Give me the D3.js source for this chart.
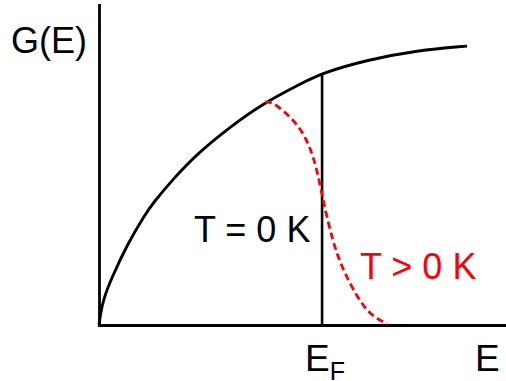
<!DOCTYPE html>
<html>
<head>
<meta charset="utf-8">
<script src="https://cdn.jsdelivr.net/npm/d3@7"></script>
<style>
  html, body { margin: 0; padding: 0; background: #fff; }
  svg text { font-family: "Liberation Sans", Arial, Helvetica, sans-serif; }
</style>
</head>
<body>
<svg id="chart" width="506" height="381"></svg>
<script>
// Density of states G(E) in arbitrary units (E_F = 1, G(E_F) = 1)
const energyT0 = [0, 0.0045, 0.018, 0.058, 0.130, 0.206, 0.242, 0.332, 0.439, 0.587, 0.735, 0.901, 1.000, 1.202, 1.426, 1.650];
const dosT0    = [0, 0.032, 0.099, 0.190, 0.325, 0.438, 0.484, 0.579, 0.679, 0.786, 0.879, 0.956, 1.000, 1.052, 1.090, 1.107];

// Occupied states at finite temperature, smeared around E_F
const energyT  = [0.744, 0.771, 0.825, 0.901, 0.946, 0.978, 1.004, 1.049, 1.094, 1.157, 1.215, 1.291];
const occT     = [0.884, 0.887, 0.853, 0.786, 0.706, 0.615, 0.496, 0.325, 0.218, 0.111, 0.040, 0.004];

const fermiEnergy = 1.0;
const fermiDos = 1.0;

const labels = {
  yAxis: "G(E)",
  xAxis: "E",
  fermi: "E",
  fermiSub: "F",
  zeroT: "T = 0 K",
  finiteT: "T > 0 K"
};

const svg = d3.select("#chart");
const x = d3.scaleLinear().domain([0, 1.82]).range([99, 505]);
const y = d3.scaleLinear().domain([0, 1.27]).range([325, 5]);

// Axes: plain lines, no ticks
const xAxis = svg.append("g")
  .attr("transform", `translate(0,${y(0)})`)
  .call(d3.axisBottom(x).tickValues([]).tickSizeOuter(0));
const yAxis = svg.append("g")
  .attr("transform", `translate(${x(0)},0)`)
  .call(d3.axisLeft(y).tickValues([]).tickSizeOuter(0));
[xAxis, yAxis].forEach(g => g.select(".domain")
  .attr("stroke", "#000").attr("stroke-width", 2.8).attr("stroke-linecap", "square"));

const line = d3.line()
  .x(d => x(d[0]))
  .y(d => y(d[1]))
  .curve(d3.curveBasis);

// G(E) curve
svg.append("path")
  .datum(d3.zip(energyT0, dosT0))
  .attr("d", line)
  .attr("fill", "none")
  .attr("stroke", "#000")
  .attr("stroke-width", 2.9);

// Sharp cutoff at E_F for T = 0
svg.append("line")
  .attr("x1", x(fermiEnergy)).attr("x2", x(fermiEnergy))
  .attr("y1", y(fermiDos)).attr("y2", y(0))
  .attr("stroke", "#000")
  .attr("stroke-width", 2.6);

// Smeared edge for T > 0
svg.append("path")
  .datum(d3.zip(energyT, occT))
  .attr("d", line)
  .attr("fill", "none")
  .attr("stroke", "#ff0000")
  .attr("stroke-width", 2.8)
  .attr("stroke-dasharray", "7,4");

// Labels
svg.append("text")
  .attr("x", 11).attr("y", 53)
  .attr("font-size", 36).attr("fill", "#000")
  .text(labels.yAxis);

svg.append("text")
  .attr("x", 475).attr("y", 371)
  .attr("font-size", 37).attr("fill", "#000")
  .text(labels.xAxis);

const ef = svg.append("text")
  .attr("x", 305).attr("y", 371)
  .attr("font-size", 37).attr("fill", "#000");
ef.append("tspan").text(labels.fermi);
ef.append("tspan").attr("font-size", 25).attr("dy", 9).text(labels.fermiSub);

svg.append("text")
  .attr("x", 194).attr("y", 242)
  .attr("font-size", 36).attr("fill", "#000")
  .text(labels.zeroT);

svg.append("text")
  .attr("x", 360).attr("y", 279)
  .attr("font-size", 36).attr("fill", "#ff0000")
  .text(labels.finiteT);
</script>
</body>
</html>
